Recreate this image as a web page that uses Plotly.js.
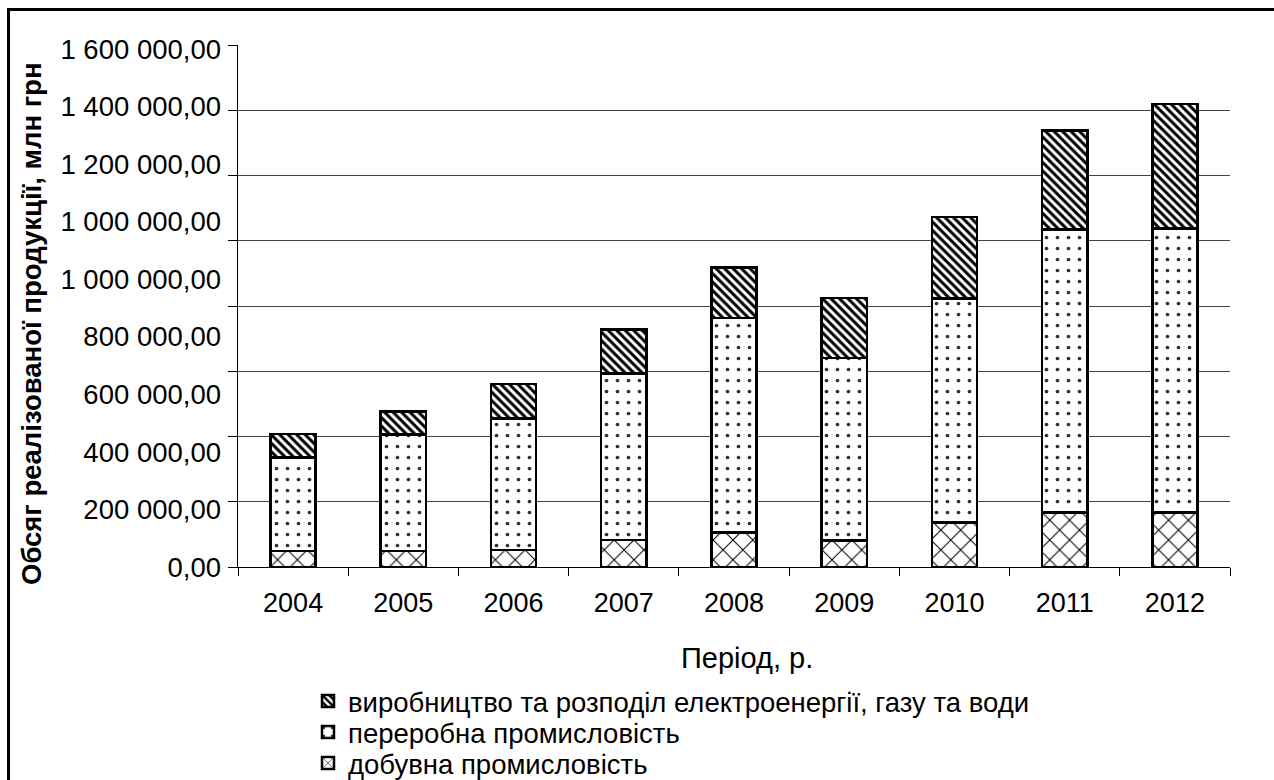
<!DOCTYPE html>
<html>
<head>
<meta charset="utf-8">
<script src="https://cdn.plot.ly/plotly-3.0.1.min.js"></script>
<style>
  html, body { margin: 0; padding: 0; background: #ffffff; }
  #chart { width: 1274px; height: 780px; }
</style>
</head>
<body>
<div id="chart"></div>
<script>
// Обсяг реалізованої продукції за видами промислової діяльності, млн грн
const years = ['2004', '2005', '2006', '2007', '2008', '2009', '2010', '2011', '2012'];

const mining = [49000, 49000, 52000, 82800, 105200, 81800, 135800, 166500, 166500];
const manufacturing = [287200, 357700, 403800, 510900, 658000, 558800, 686600, 867400, 870500];
const utilities = [71500, 69300, 105200, 134900, 155400, 183900, 250400, 304600, 382200];

const seriesNames = [
  'добувна промисловість',
  'переробна промисловість',
  'виробництво та розподіл електроенергії, газу та води'
];

// gridline values and the printed axis captions
const gridValues = [0, 200000, 400000, 600000, 800000, 1000000, 1200000, 1400000, 1600000];
const axisCaptions = ['0,00', '200 000,00', '400 000,00', '600 000,00', '800 000,00',
  '1 000 000,00', '1 000 000,00', '1 200 000,00', '1 400 000,00', '1 600 000,00'];

const FONT = 'Liberation Sans, Arial, sans-serif';
const outline = { color: '#000000', width: 2.5 };

const traces = [
  {
    type: 'bar', name: seriesNames[0], x: years, y: mining, legend: 'legend3',
    marker: {
      color: '#ffffff', line: outline,
      pattern: { shape: 'x', fgcolor: '#000000', bgcolor: '#ffffff', size: 14, solidity: 0.14 }
    }
  },
  {
    type: 'bar', name: seriesNames[1], x: years, y: manufacturing, legend: 'legend2',
    marker: {
      color: '#ffffff', line: outline,
      pattern: { shape: '.', fgcolor: '#333333', bgcolor: '#ffffff', size: 11, solidity: 0.09 }
    }
  },
  {
    type: 'bar', name: seriesNames[2], x: years, y: utilities, legend: 'legend',
    marker: {
      color: '#ffffff', line: outline,
      pattern: { shape: '\\', fgcolor: '#000000', bgcolor: '#ffffff', size: 6, solidity: 0.5 }
    }
  },
  // carrier for the caption axis
  { type: 'scatter', x: [], y: [], yaxis: 'y2', showlegend: false, hoverinfo: 'skip' }
];

const plotL = 238, plotR = 1230, plotT = 45, plotB = 567;
const pw = plotR - plotL, ph = plotB - plotT;
const px = v => (v - plotL) / pw;
const py = v => (plotB - v) / ph;

function legendAt(rowY) {
  return {
    orientation: 'v',
    x: px(308), xanchor: 'left', y: py(rowY), yanchor: 'middle',
    font: { family: FONT, size: 27.5, color: '#000000' },
    bgcolor: 'rgba(0,0,0,0)', borderwidth: 0
  };
}

const layout = {
  width: 1274, height: 780,
  margin: { l: plotL, r: 1274 - plotR, t: plotT, b: 780 - plotB, pad: 0, autoexpand: false },
  paper_bgcolor: '#ffffff', plot_bgcolor: '#ffffff',
  font: { family: FONT, size: 27, color: '#000000' },
  barmode: 'stack', bargap: 0.59,
  showlegend: true,
  legend: legendAt(701),
  legend2: legendAt(732),
  legend3: legendAt(763),
  xaxis: {
    type: 'category', tickson: 'boundaries',
    ticks: 'outside', ticklen: 8, tickcolor: '#000000', tickwidth: 1,
    showline: true, linecolor: '#000000', linewidth: 1,
    showgrid: false, zeroline: false,
    ticklabelstandoff: 12,
    tickfont: { family: FONT, size: 27, color: '#000000' },
    fixedrange: true
  },
  yaxis: {
    range: [0, 1600000], tickvals: gridValues, showticklabels: false,
    ticks: 'outside', ticklen: 9, tickcolor: '#000000', tickwidth: 1,
    showline: true, linecolor: '#000000', linewidth: 1,
    showgrid: true, gridcolor: '#444444', gridwidth: 1,
    zeroline: false, fixedrange: true
  },
  yaxis2: {
    overlaying: 'y', side: 'left',
    range: [0, 9 * ph / (plotB - 49)],
    tickvals: axisCaptions.map((_, i) => i), ticktext: axisCaptions,
    ticks: '', showline: false, showgrid: false, zeroline: false,
    ticklabelstandoff: 16,
    tickfont: { family: FONT, size: 27.5, color: '#000000' },
    fixedrange: true
  },
  annotations: [
    {
      text: 'Обсяг реалізованої продукції, млн грн',
      xref: 'paper', yref: 'paper', x: px(31), y: py(324),
      xanchor: 'center', yanchor: 'middle', textangle: -90, showarrow: false,
      font: { family: FONT, size: 27.5, color: '#000000', weight: 'bold' }
    },
    {
      text: 'Період, р.',
      xref: 'paper', yref: 'paper', x: px(747), y: py(658),
      xanchor: 'center', yanchor: 'middle', showarrow: false,
      font: { family: FONT, size: 29, color: '#000000' }
    }
  ],
  shapes: [
    {
      type: 'rect', xref: 'paper', yref: 'paper', layer: 'above',
      x0: px(8.5), y0: py(9.5), x1: px(1290), y1: py(800),
      line: { color: '#000000', width: 3 }
    }
  ]
};

Plotly.newPlot('chart', traces, layout, { displayModeBar: false, staticPlot: true });
</script>
</body>
</html>
